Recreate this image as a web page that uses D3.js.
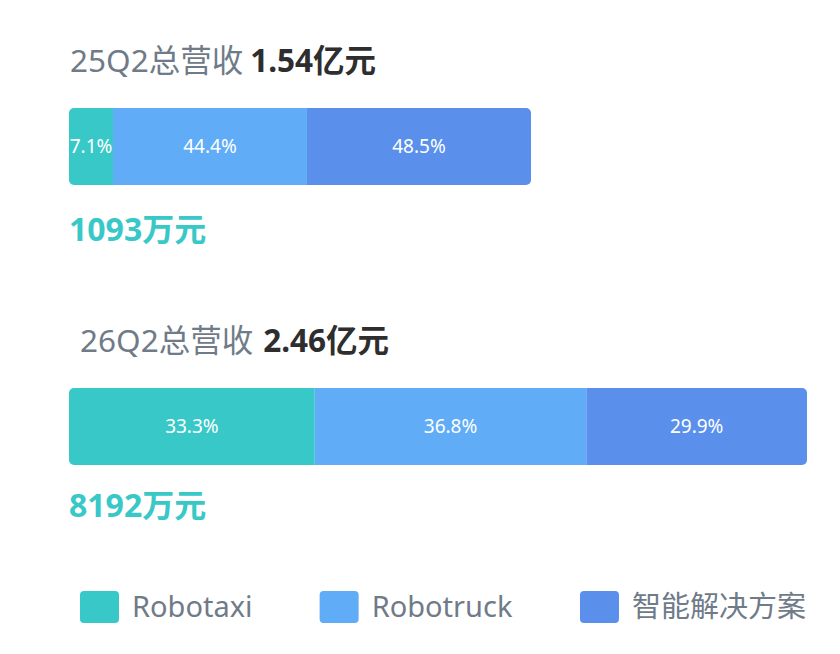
<!DOCTYPE html>
<html>
<head>
<meta charset="utf-8">
<script src="https://cdn.jsdelivr.net/npm/d3@7"></script>
<style>
	html, body { margin: 0; padding: 0; background: #ffffff; }
	svg { display: block; }
	text { font-family: "Noto Sans", "Noto Sans CJK SC", sans-serif; }
</style>
</head>
<body>
<svg id="chart" width="840" height="654"></svg>
<script>
// Data
const periods = ["25Q2", "26Q2"];
const totals = [1.54, 2.46];               // 亿元
const totalLabels = ["1.54亿元", "2.46亿元"];
const robotaxiLabels = ["1093万元", "8192万元"];
const segments = ["Robotaxi", "Robotruck", "智能解决方案"];
const shares25Q2 = [7.1, 44.4, 48.5];
const shares26Q2 = [33.3, 36.8, 29.9];
const shares = [shares25Q2, shares26Q2];

const colors = ["#38C8C8", "#60ACF6", "#5A90EC"];
const grayText = "#6F7B88";
const darkText = "#2E2E2E";

const svg = d3.select("#chart");

const x = d3.scaleLinear()
	.domain([0, d3.max(totals)])
	.range([69, 807]);

const color = d3.scaleOrdinal().domain(segments).range(colors);

// Layout of each block: title baseline, bar top, sub label baseline
const blocks = [
	{ titleX: 70, titleY: 72, barY: 108, subY: 241, gap: 7 },
	{ titleX: 80, titleY: 352, barY: 388, subY: 517, gap: 10 }
];
const barHeight = 77;
const minSegmentWidth = 44;

blocks.forEach((block, i) => {
	const g = svg.append("g");

	// Title: period in gray, total in bold
	const title = g.append("text")
		.attr("x", block.titleX)
		.attr("y", block.titleY)
		.style("font-size", "31.5px");
	title.append("tspan")
		.attr("fill", grayText)
		.text(periods[i] + "总营收");
	title.append("tspan")
		.attr("fill", darkText)
		.attr("dx", block.gap)
		.style("font-weight", "bold")
		.text(totalLabels[i]);

	// Segment positions, with a minimum width so the label fits
	let cumulative = 0;
	let prevEnd = x(0);
	const segs = shares[i].map((share, j) => {
		cumulative += share;
		let end = x(totals[i] * cumulative / 100);
		if (end - prevEnd < minSegmentWidth) end = prevEnd + minSegmentWidth;
		if (j === shares[i].length - 1) end = x(totals[i]);
		const seg = { name: segments[j], share, x0: prevEnd, x1: end };
		prevEnd = end;
		return seg;
	});

	// Rounded clip for the whole bar
	const clipId = "clip" + i;
	svg.append("defs").append("clipPath").attr("id", clipId)
		.append("rect")
		.attr("x", x(0))
		.attr("y", block.barY)
		.attr("width", x(totals[i]) - x(0))
		.attr("height", barHeight)
		.attr("rx", 5);

	const bar = g.append("g").attr("clip-path", `url(#${clipId})`);
	bar.selectAll("rect")
		.data(segs)
		.join("rect")
		.attr("x", d => d.x0)
		.attr("y", block.barY)
		.attr("width", d => d.x1 - d.x0)
		.attr("height", barHeight)
		.attr("fill", d => color(d.name));

	g.selectAll("text.pct")
		.data(segs)
		.join("text")
		.attr("class", "pct")
		.attr("x", d => (d.x0 + d.x1) / 2)
		.attr("y", block.barY + barHeight / 2)
		.attr("dy", "0.36em")
		.attr("text-anchor", "middle")
		.attr("fill", "#ffffff")
		.style("font-size", "19px")
		.text(d => d.share.toFixed(1) + "%");

	// Robotaxi revenue under the bar
	g.append("text")
		.attr("x", x(0))
		.attr("y", block.subY)
		.attr("fill", colors[0])
		.style("font-size", "32px")
		.style("font-weight", "bold")
		.text(robotaxiLabels[i]);
});

// Legend, spread between the left and right edges
const legend = svg.append("g").attr("class", "legend");
const legendLeft = 80, legendRight = 806, legendY = 591;
const swatchW = 39, swatchH = 32, swatchGap = 13;

const items = legend.selectAll("g")
	.data(segments)
	.join("g");

items.append("rect")
	.attr("width", swatchW)
	.attr("height", swatchH)
	.attr("rx", 4)
	.attr("fill", d => color(d));

items.append("text")
	.attr("x", swatchW + swatchGap)
	.attr("y", 26)
	.attr("fill", grayText)
	.style("font-size", "29px")
	.text(d => d);

const widths = [];
items.each(function() { widths.push(this.getBBox().width); });
const spare = (legendRight - legendLeft - d3.sum(widths)) / (segments.length - 1);
let cursor = legendLeft;
items.attr("transform", (d, i) => {
	const t = `translate(${cursor}, ${legendY})`;
	cursor += widths[i] + spare;
	return t;
});
</script>
</body>
</html>
